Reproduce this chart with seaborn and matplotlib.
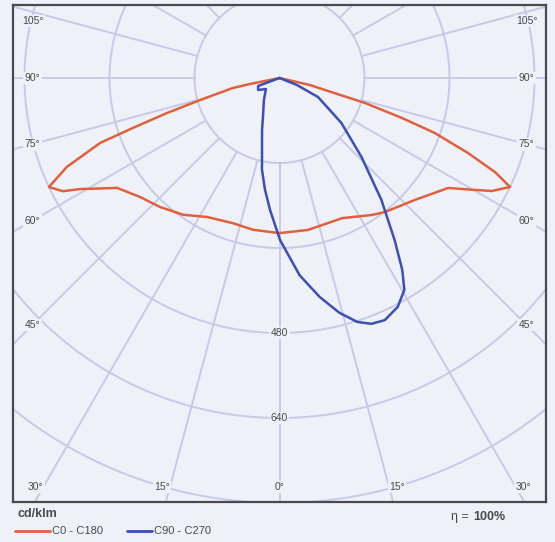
import numpy as np
import pandas as pd
import seaborn as sns
import matplotlib.pyplot as plt
from matplotlib.lines import Line2D

# curva C0 - C180 (gradi, cd/klm)
c0_ang = [-90, -78.5, -77.9, -74.5, -72.7, -71.2, -70.1, -67.3, -64.7, -62.4, -60.9,
          -55.9, -49.5, -42.8, -35.2, -27.5, -17.8, -9.9, 0,
          10.6, 24.1, 34.0, 38.2, 48.0, 56.9, 60.2, 62.0, 64.7, 66.4, 68.3, 70.5,
          71.9, 73.7, 75.2, 77.0, 90]
c0_val = [0, 57, 90, 155, 222, 291, 359, 434, 480, 460, 430,
          369, 345, 331, 315, 295, 287, 290, 292,
          291, 289, 311, 321, 343, 379, 424, 453, 480, 443, 382, 310,
          243, 168, 89, 59, 0]

# curva C90 - C270
c90_ang = [-90, -69.6, -60.8, -50.8, -35.2, -22.9, -18.6, -13.7, -10.8, -7.4, -4.1, 0.2,
           5.8, 10.4, 14.3, 17.7, 20.5, 23.5, 27.3, 30.5, 32.6, 35.4, 39.9, 46.1,
           54.0, 63.7, 68.2, 90]
c90_val = [0, 43, 46, 33, 51, 80, 103, 139, 176, 212, 249, 305,
           373, 419, 456, 482, 494, 497, 485, 463, 429, 374, 299, 214,
           144, 81, 35, 0]

cerchi = [160, 320, 480, 640, 800]
raggi = list(range(-180, 180, 15))
etichette_lato = [105, 90, 75, 60, 45]
etichette_basso = [-30, -15, 0, 15, 30]
etichette_r = [480, 640]

colori = {"C0 - C180": "#e0603c", "C90 - C270": "#3b4fb4"}
sfondo = "#eff1f9"
griglia = "#c6cae6"
testo = "#4a4a4a"


def polar_xy(ang, val):
    t = np.radians(ang)
    v = np.asarray(val, dtype=float)
    return v * np.sin(t), -v * np.cos(t)


x0, y0 = polar_xy(c0_ang, c0_val)
x1, y1 = polar_xy(c90_ang, c90_val)
df = pd.concat([
    pd.DataFrame({"x": x0, "y": y0, "piano": "C0 - C180"}),
    pd.DataFrame({"x": x1, "y": y1, "piano": "C90 - C270"}),
], ignore_index=True)

sns.set_style("white")
plt.rcParams["font.family"] = ["Liberation Sans", "DejaVu Sans"]

W, H = 555, 542
fig = plt.figure(figsize=(W / 100, H / 100), dpi=100, facecolor=sfondo)
ax = fig.add_axes([13 / W, (H - 501.5) / H, 533 / W, 496.5 / H])
ax.set_facecolor(sfondo)

s = 160 / 85  # cd/klm per pixel
ax.set_xlim(-266.5 * s, 266.5 * s)
ax.set_ylim(-423.5 * s, 73 * s)

# griglia polare
t = np.linspace(0, 2 * np.pi, 400)
for c in cerchi:
    ax.plot(c * np.cos(t), c * np.sin(t), color=griglia, lw=1.4, zorder=1)
for a in raggi:
    rx, ry = polar_xy(a, [160, 1200])
    ax.plot(rx, ry, color=griglia, lw=1.4, zorder=1)

box = dict(facecolor=sfondo, edgecolor="none", pad=1)

# etichette angoli sui lati
for a in etichette_lato:
    xl = 247 * s
    yl = min(-xl / np.tan(np.radians(a)), 57 * s)
    for sgn in (-1, 1):
        ax.text(sgn * xl, yl, f"{a}°", fontsize=7.5, color=testo, ha="center",
                va="center", bbox=box, zorder=2)

# etichette angoli in basso
yb = -(487 - 78) * s
for a in etichette_basso:
    xb = -yb * np.tan(np.radians(a))
    ha = "center" if a == 0 else ("right" if a < 0 else "left")
    ax.text(xb, yb, f"{abs(a)}°", fontsize=7.5, color=testo, ha=ha, va="center",
            bbox=box, zorder=2)

for r in etichette_r:
    ax.text(0, -r, str(r), fontsize=7.5, color=testo, ha="center", va="center",
            bbox=box, zorder=2)

sns.lineplot(data=df, x="x", y="y", hue="piano", estimator=None, sort=False,
             palette=colori, legend=False, lw=1.8, ax=ax, zorder=3)

ax.set_xlabel("")
ax.set_ylabel("")
ax.set_xticks([])
ax.set_yticks([])
for sp in ax.spines.values():
    sp.set_visible(True)
    sp.set_color("#4a4a4a")
    sp.set_linewidth(1.6)

# legenda in basso
fig.text(17 / W, 1 - 514 / H, "cd/klm", fontsize=9, fontweight="bold", color=testo,
         va="center")
fig.add_artist(Line2D([15 / W, 50 / W], [1 - 531 / H] * 2, color=colori["C0 - C180"], lw=2))
fig.text(52 / W, 1 - 531 / H, "C0 - C180", fontsize=8, color=testo, va="center")
fig.add_artist(Line2D([127 / W, 152 / W], [1 - 531 / H] * 2, color=colori["C90 - C270"], lw=2))
fig.text(154 / W, 1 - 531 / H, "C90 - C270", fontsize=8, color=testo, va="center")
fig.text(505 / W, 1 - 517 / H, "100%", fontsize=9, fontweight="bold", color=testo,
         ha="right", va="center")
fig.text(472 / W, 1 - 517 / H, "η = ", fontsize=9, color=testo, ha="right", va="center")

fig.savefig("out.png", dpi=100, facecolor=sfondo)
